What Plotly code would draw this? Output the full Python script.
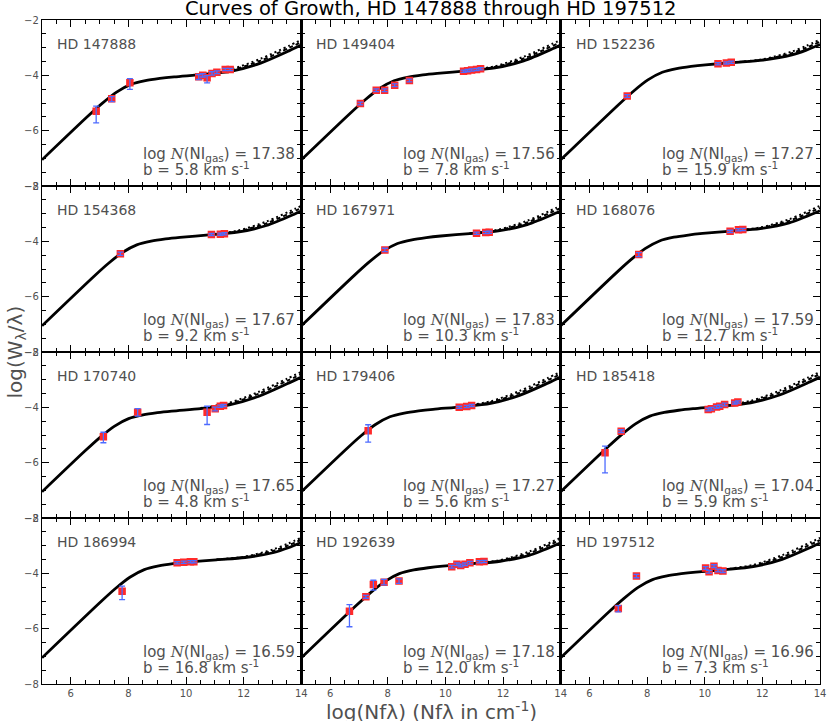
import plotly.graph_objects as go
from plotly.subplots import make_subplots

STARS = ["HD 147888", "HD 149404", "HD 152236", "HD 154368", "HD 167971", "HD 168076",
         "HD 170740", "HD 179406", "HD 185418", "HD 186994", "HD 192639", "HD 197512"]
LOG_N = ["17.38", "17.56", "17.27", "17.67", "17.83", "17.59",
         "17.65", "17.27", "17.04", "16.59", "17.18", "16.96"]
B_KMS = ["5.8", "7.8", "15.9", "9.2", "10.3", "12.7",
         "4.8", "5.6", "5.9", "16.8", "12.0", "7.3"]

# theoretical curves of growth (solid), read per panel
COG_X = [
    [5, 6.588, 7.088, 7.588, 8.088, 8.588, 9.088, 9.588, 10.588, 11.588, 12.588, 13.588, 14],
    [5, 6.717, 7.217, 7.717, 8.217, 8.717, 9.217, 9.717, 10.717, 11.717, 12.717, 13.717, 14],
    [5, 7.026, 7.526, 8.026, 8.526, 9.026, 9.526, 10.026, 11.026, 12.026, 13.026, 13.526, 14],
    [5, 6.789, 7.289, 7.789, 8.289, 8.789, 9.289, 9.789, 10.789, 11.789, 12.789, 13.789, 14],
    [5, 6.838, 7.338, 7.838, 8.338, 8.838, 9.338, 9.838, 10.838, 11.838, 12.838, 13.838, 14],
    [5, 6.929, 7.429, 7.929, 8.429, 8.929, 9.429, 9.929, 10.929, 11.929, 12.929, 13.929, 14],
    [5, 6.506, 7.006, 7.506, 8.006, 8.506, 9.006, 9.506, 10.506, 11.506, 12.506, 13.506, 14],
    [5, 6.573, 7.073, 7.573, 8.073, 8.573, 9.073, 9.573, 10.573, 11.573, 12.573, 13.573, 14],
    [5, 6.596, 7.096, 7.596, 8.096, 8.596, 9.096, 9.596, 10.596, 11.596, 12.596, 13.596, 14],
    [5, 7.050, 7.550, 8.050, 8.550, 9.050, 9.550, 10.050, 11.050, 12.050, 13.050, 13.550, 14],
    [5, 6.904, 7.404, 7.904, 8.404, 8.904, 9.404, 9.904, 10.904, 11.904, 12.904, 13.904, 14],
    [5, 6.688, 7.188, 7.688, 8.188, 8.688, 9.188, 9.688, 10.688, 11.688, 12.688, 13.688, 14],
]
COG_Y = [
    [-7.054, -5.481, -5.012, -4.605, -4.327, -4.193, -4.113, -4.055, -3.965, -3.844, -3.558, -3.108, -2.907],
    [-7.054, -5.352, -4.883, -4.476, -4.198, -4.064, -3.985, -3.929, -3.840, -3.732, -3.476, -3.041, -2.904],
    [-7.054, -5.043, -4.574, -4.167, -3.889, -3.755, -3.676, -3.619, -3.534, -3.450, -3.264, -3.091, -2.888],
    [-7.054, -5.280, -4.811, -4.404, -4.126, -3.992, -3.913, -3.856, -3.769, -3.668, -3.429, -3.003, -2.902],
    [-7.054, -5.231, -4.762, -4.355, -4.077, -3.943, -3.864, -3.807, -3.721, -3.624, -3.396, -2.977, -2.900],
    [-7.054, -5.140, -4.671, -4.264, -3.986, -3.852, -3.773, -3.716, -3.631, -3.541, -3.334, -2.929, -2.896],
    [-7.054, -5.563, -5.094, -4.687, -4.409, -4.275, -4.195, -4.137, -4.045, -3.914, -3.608, -3.150, -2.908],
    [-7.054, -5.496, -5.027, -4.620, -4.342, -4.208, -4.128, -4.070, -3.980, -3.857, -3.567, -3.116, -2.907],
    [-7.054, -5.473, -5.004, -4.597, -4.319, -4.185, -4.105, -4.048, -3.958, -3.838, -3.553, -3.104, -2.907],
    [-7.054, -5.019, -4.550, -4.143, -3.865, -3.731, -3.652, -3.595, -3.510, -3.428, -3.247, -3.077, -2.886],
    [-7.054, -5.165, -4.696, -4.289, -4.011, -3.877, -3.798, -3.740, -3.655, -3.563, -3.351, -2.942, -2.897],
    [-7.054, -5.381, -4.912, -4.505, -4.227, -4.093, -4.014, -3.956, -3.867, -3.758, -3.495, -3.056, -2.905],
]
# high-damping variants (dashed / dotted), defined on the last five x points of COG_X
DASH_Y = [
    [-3.958, -3.807, -3.469, -3.001, -2.798],
    [-3.834, -3.702, -3.393, -2.935, -2.797],
    [-3.531, -3.433, -3.198, -3.002, -2.786],
    [-3.764, -3.641, -3.349, -2.898, -2.795],
    [-3.717, -3.599, -3.319, -2.873, -2.794],
    [-3.628, -3.519, -3.261, -2.825, -2.791],
    [-4.036, -3.872, -3.516, -3.043, -2.799],
    [-3.973, -3.819, -3.478, -3.009, -2.798],
    [-3.951, -3.801, -3.464, -2.997, -2.798],
    [-3.508, -3.411, -3.182, -2.988, -2.785],
    [-3.652, -3.541, -3.278, -2.838, -2.792],
    [-3.861, -3.726, -3.411, -2.950, -2.797],
]
DOT_Y = [
    [-3.950, -3.771, -3.400, -2.923, -2.719],
    [-3.829, -3.672, -3.327, -2.857, -2.718],
    [-3.528, -3.415, -3.142, -2.932, -2.711],
    [-3.759, -3.614, -3.285, -2.820, -2.717],
    [-3.712, -3.574, -3.256, -2.795, -2.716],
    [-3.624, -3.498, -3.202, -2.748, -2.714],
    [-4.027, -3.832, -3.445, -2.964, -2.719],
    [-3.965, -3.783, -3.408, -2.930, -2.719],
    [-3.944, -3.765, -3.395, -2.919, -2.719],
    [-3.505, -3.394, -3.126, -2.919, -2.710],
    [-3.648, -3.519, -3.217, -2.761, -2.715],
    [-3.855, -3.695, -3.344, -2.872, -2.718],
]

# measured lines: log(N f lambda), log(W/lambda), errors (+ / -)
OBS_X = [
    [6.88, 7.42, 8.05, 10.44, 10.58, 10.73, 10.90, 11.07, 11.36, 11.53],
    [7.05, 7.60, 7.89, 8.24, 8.75, 10.63, 10.77, 10.91, 11.08, 11.22],
    [7.31, 10.46, 10.75, 10.92],
    [7.72, 10.88, 11.19, 11.33],
    [7.90, 11.08, 11.40, 11.52],
    [7.71, 10.88, 11.17, 11.32],
    [7.13, 8.32, 10.73, 11.01, 11.19, 11.30],
    [7.32, 10.48, 10.74, 10.91],
    [6.54, 7.10, 10.12, 10.23, 10.41, 10.52, 10.69, 11.04, 11.15],
    [7.78, 9.69, 9.92, 10.15, 10.27],
    [6.67, 7.24, 7.50, 7.87, 8.39, 10.22, 10.40, 10.53, 10.68, 10.85, 11.18, 11.34],
    [7.00, 7.63, 10.03, 10.15, 10.32, 10.46, 10.63],
]
OBS_Y = [
    [-5.30, -4.85, -4.27, -4.05, -4.00, -4.09, -3.93, -3.89, -3.79, -3.79],
    [-5.02, -4.54, -4.54, -4.36, -4.19, -3.85, -3.83, -3.81, -3.79, -3.76],
    [-4.75, -3.58, -3.55, -3.53],
    [-4.45, -3.75, -3.74, -3.73],
    [-4.31, -3.71, -3.68, -3.67],
    [-4.48, -3.64, -3.58, -3.57],
    [-5.06, -4.18, -4.18, -4.05, -3.96, -3.93],
    [-4.85, -4.00, -3.97, -3.93],
    [-5.64, -4.86, -4.08, -4.05, -3.99, -3.96, -3.90, -3.84, -3.81],
    [-4.65, -3.62, -3.60, -3.58, -3.58],
    [-5.37, -4.85, -4.40, -4.32, -4.28, -3.76, -3.67, -3.72, -3.67, -3.62, -3.58, -3.57],
    [-5.27, -4.10, -3.81, -3.94, -3.74, -3.90, -3.92],
]
ERR_PLUS = [
    [0.19, 0.08, 0.15, 0.08, 0.06, 0.08, 0.06, 0.05, 0.04, 0.04],
    [0.05, 0.05, 0.05, 0.05, 0.05, 0.04, 0.04, 0.04, 0.04, 0.04],
    [0.05, 0.04, 0.04, 0.04],
    [0.06, 0.04, 0.04, 0.04],
    [0.06, 0.04, 0.04, 0.04],
    [0.07, 0.04, 0.04, 0.04],
    [0.16, 0.13, 0.22, 0.06, 0.04, 0.04],
    [0.22, 0.04, 0.04, 0.04],
    [0.24, 0.05, 0.05, 0.05, 0.05, 0.05, 0.05, 0.04, 0.04],
    [0.19, 0.04, 0.04, 0.04, 0.04],
    [0.24, 0.05, 0.15, 0.10, 0.08, 0.05, 0.05, 0.05, 0.05, 0.05, 0.04, 0.04],
    [0.10, 0.06, 0.05, 0.05, 0.05, 0.05, 0.05],
]
ERR_MINUS = [
    [0.42, 0.10, 0.24, 0.10, 0.06, 0.18, 0.06, 0.05, 0.04, 0.04],
    [0.05, 0.05, 0.05, 0.05, 0.05, 0.04, 0.04, 0.04, 0.04, 0.04],
    [0.05, 0.04, 0.04, 0.04],
    [0.06, 0.04, 0.04, 0.04],
    [0.06, 0.04, 0.04, 0.04],
    [0.07, 0.04, 0.04, 0.04],
    [0.22, 0.14, 0.44, 0.08, 0.04, 0.04],
    [0.41, 0.04, 0.04, 0.04],
    [0.73, 0.05, 0.05, 0.05, 0.05, 0.05, 0.05, 0.04, 0.04],
    [0.30, 0.04, 0.04, 0.04, 0.04],
    [0.56, 0.05, 0.21, 0.10, 0.08, 0.05, 0.05, 0.05, 0.05, 0.05, 0.04, 0.04],
    [0.12, 0.06, 0.05, 0.05, 0.05, 0.05, 0.05],
]

X_RANGE = [5, 14]
Y_RANGE = [-8, -2]

FONT = "DejaVu Sans"
TXT = "#505050"

fig = make_subplots(rows=4, cols=3, horizontal_spacing=0, vertical_spacing=0)

for i in range(12):
    r, c = i // 3 + 1, i % 3 + 1
    fig.add_trace(go.Scatter(x=COG_X[i], y=COG_Y[i], mode="lines",
                             line=dict(color="black", width=2.8, shape="spline", smoothing=0.8),
                             hoverinfo="skip"), row=r, col=c)
    fig.add_trace(go.Scatter(x=COG_X[i][-5:], y=DASH_Y[i], mode="lines",
                             line=dict(color="black", width=2, dash="4px,3px", shape="spline", smoothing=0.8),
                             hoverinfo="skip"), row=r, col=c)
    fig.add_trace(go.Scatter(x=COG_X[i][-5:], y=DOT_Y[i], mode="lines",
                             line=dict(color="black", width=2, dash="2px,3px", shape="spline", smoothing=0.8),
                             hoverinfo="skip"), row=r, col=c)
    fig.add_trace(go.Scatter(x=OBS_X[i], y=OBS_Y[i], mode="markers",
                             marker=dict(symbol="square", size=7.5, color="#ff2a2a",
                                         line=dict(width=0)),
                             hoverinfo="skip"), row=r, col=c)
    fig.add_trace(go.Scatter(x=OBS_X[i], y=OBS_Y[i], mode="markers",
                             marker=dict(size=1, color="rgba(0,0,0,0)"),
                             error_y=dict(type="data", symmetric=False, array=ERR_PLUS[i],
                                          arrayminus=ERR_MINUS[i], color="#4d6bff",
                                          thickness=1.3, width=3),
                             hoverinfo="skip"), row=r, col=c)

    xref = "x" if i == 0 else f"x{i+1}"
    yref = "y" if i == 0 else f"y{i+1}"
    fig.add_annotation(x=5.45, y=-2.85, xref=xref, yref=yref, text=STARS[i],
                       showarrow=False, xanchor="left", yanchor="middle",
                       font=dict(family=FONT, size=14, color=TXT))
    fig.add_annotation(x=8.45, y=-6.86, xref=xref, yref=yref,
                       text=("log <span style='font-family:DejaVu Serif'><i>N</i></span>"
                             "(NI<sub>gas</sub>) = " + LOG_N[i]),
                       showarrow=False, xanchor="left", yanchor="middle",
                       font=dict(family=FONT, size=15, color=TXT))
    fig.add_annotation(x=8.45, y=-7.38, xref=xref, yref=yref,
                       text="b = " + B_KMS[i] + " km s<sup>-1</sup>",
                       showarrow=False, xanchor="left", yanchor="middle",
                       font=dict(family=FONT, size=15, color=TXT))

fig.update_xaxes(range=X_RANGE, dtick=2, tick0=0, ticks="inside", ticklen=7, tickwidth=1,
                 tickcolor="black", minor=dict(dtick=0.5, ticklen=4, ticks="inside", tickcolor="black"),
                 showline=True, linecolor="black", linewidth=1.2, mirror="ticks",
                 showgrid=False, zeroline=False, showticklabels=False,
                 tickfont=dict(family=FONT, size=10, color=TXT))
fig.update_xaxes(showticklabels=True, row=4)
fig.update_yaxes(range=Y_RANGE, dtick=2, tick0=0, ticks="inside", ticklen=7, tickwidth=1,
                 tickcolor="black", minor=dict(dtick=0.5, ticklen=4, ticks="inside", tickcolor="black"),
                 showline=True, linecolor="black", linewidth=1.2, mirror="ticks",
                 showgrid=False, zeroline=False, showticklabels=False,
                 tickfont=dict(family=FONT, size=10, color=TXT))
fig.update_yaxes(showticklabels=True, col=1)

fig.add_annotation(x=0.5, y=1.017, xref="paper", yref="paper",
                   text="Curves of Growth, HD 147888 through HD 197512", showarrow=False,
                   xanchor="center", yanchor="middle", font=dict(family=FONT, size=19.5, color="black"))
fig.add_annotation(x=0.5, y=-0.041, xref="paper", yref="paper",
                   text="log(Nfλ) (Nfλ in cm<sup>-1</sup>)", showarrow=False,
                   xanchor="center", yanchor="middle", font=dict(family=FONT, size=20, color=TXT))
fig.add_annotation(x=-0.034, y=0.5, xref="paper", yref="paper", textangle=-90,
                   text="log(W<sub>λ</sub>/λ)", showarrow=False,
                   xanchor="center", yanchor="middle", font=dict(family=FONT, size=20, color=TXT))

fig.update_layout(width=831, height=721, showlegend=False,
                  margin=dict(l=42, r=5, t=20, b=37),
                  paper_bgcolor="white", plot_bgcolor="white")

fig.write_html("out.html", config={"displayModeBar": False, "staticPlot": True},
               post_script="document.body.style.margin='0px';document.body.style.overflow='hidden';")
